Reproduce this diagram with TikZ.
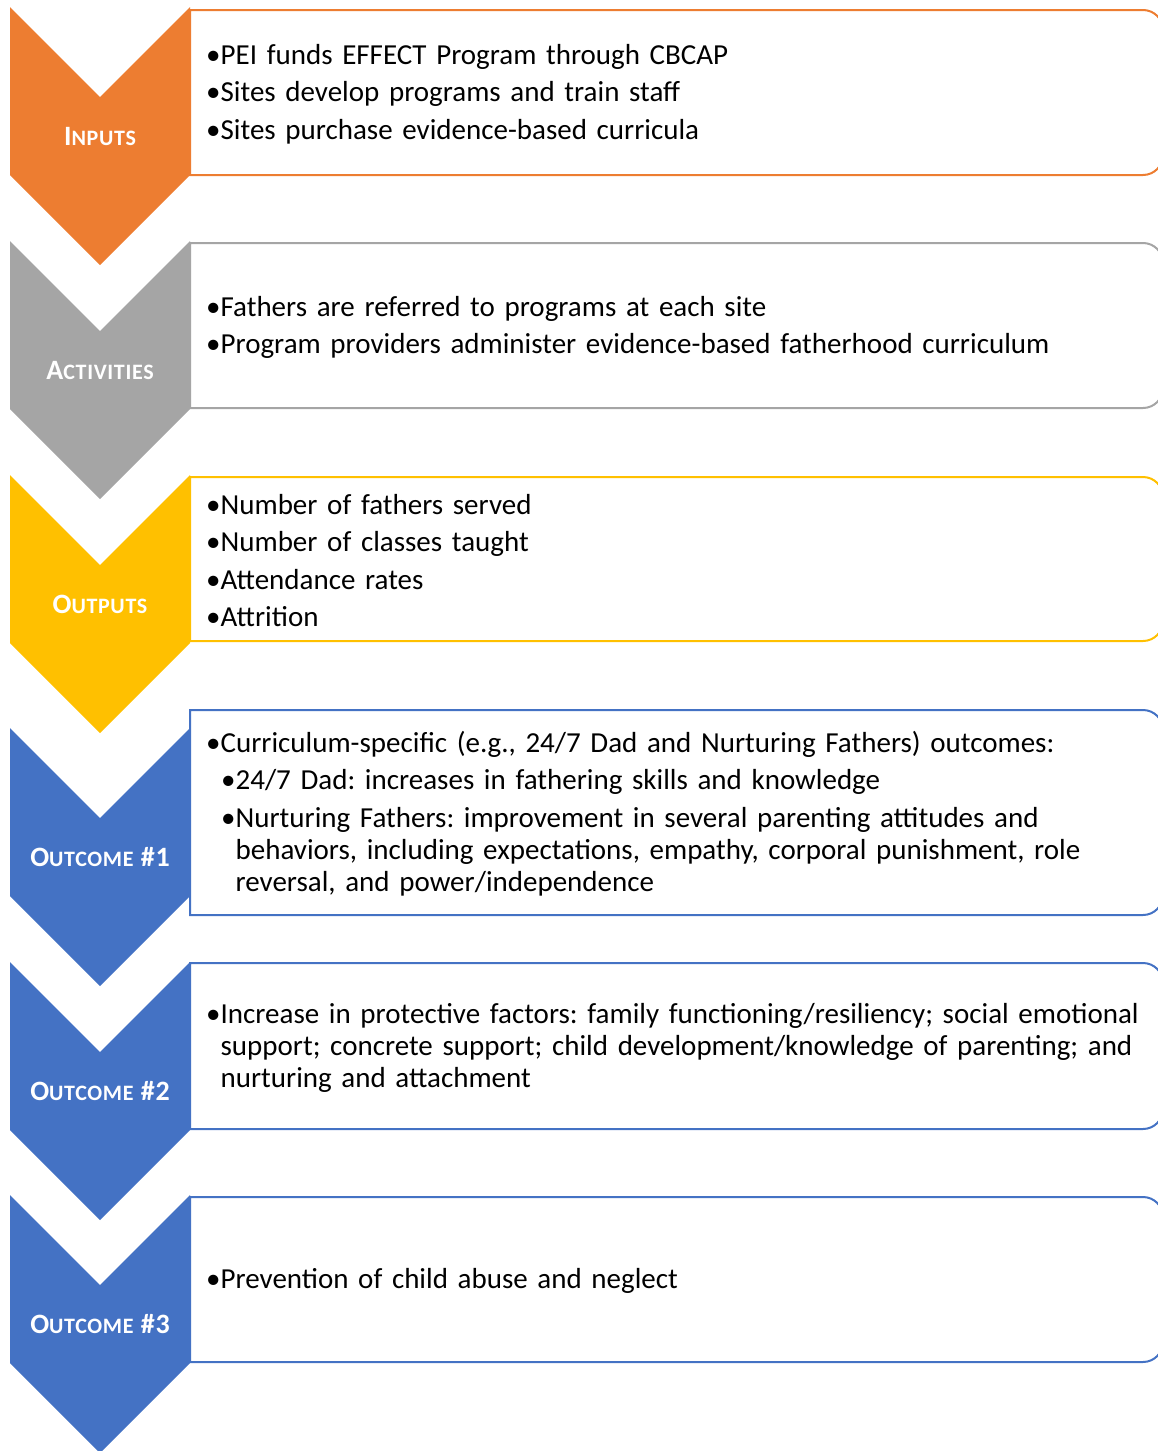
\documentclass[tikz,border=0pt]{standalone}
\usepackage{fontspec}
\setmainfont{Carlito}
\usetikzlibrary{positioning}

\definecolor{inorange}{HTML}{ED7D31}
\definecolor{actgray}{HTML}{A5A5A5}
\definecolor{outgold}{HTML}{FFC000}
\definecolor{ocblue}{HTML}{4472C4}

% small caps done by hand: big first letter, smaller rest
\newcommand{\capbig}[1]{{\fontsize{28}{30}\selectfont #1}}
\newcommand{\capsmall}[1]{{\fontsize{22}{30}\selectfont #1}}
% bullet lines
\newcommand{\itm}[1]{\par\noindent\textbullet#1}
\newcommand{\subitm}[1]{\par\noindent\hspace*{15pt}\textbullet#1}
\newcommand{\wrapitm}[2]{\par\noindent\hspace*{#1}\textbullet\parbox[t]{920pt}{\raggedright #2}}

\tikzset{
  chevlabel/.style={text=white, font=\bfseries\addfontfeatures{LetterSpace=3}, inner sep=0pt},
  bulletbox/.style={anchor=west, inner sep=0pt, text width=960pt, align=left,
    font=\fontsize{29}{32}\selectfont\frenchspacing\setlength{\parskip}{5.5pt}},
  boxline/.style={draw=#1, line width=2pt, fill=white}
}

\begin{document}
\begin{tikzpicture}[x=1pt, y=-1pt]
        \useasboundingbox (0,0) rectangle (1158,1451);
        % Boxes behind the chevrons, right corners rounded
        \foreach \a/\b/\c in {10/175/inorange, 243/408/actgray, 477/641/outgold, 710/915/ocblue, 963/1129/ocblue, 1197/1362/ocblue} {
            \draw[boxline=\c] (190,\a) -- (1143,\a) arc[start angle=90, end angle=0, radius=20pt]
                -- (1163,{\b-20}) arc[start angle=0, end angle=-90, radius=20pt] -- (190,\b) -- cycle;
        }
        % Chevrons
        \foreach \t/\c in {7/inorange, 241/actgray, 475/outgold, 728/ocblue, 962/ocblue, 1195/ocblue} {
            \fill[\c] (10,\t) -- (100,{\t+90}) -- (190,\t) -- (190,{\t+168}) -- (100,{\t+258}) -- (10,{\t+168}) -- cycle;
        }
        % Labels on the chevrons
        \node[chevlabel] (inLbl) at (100,136) {\capbig{I}\capsmall{NPUTS}};
        \node[chevlabel] (actLbl) at (100,370) {\capbig{A}\capsmall{CTIVITIES}};
        \node[chevlabel] (outLbl) at (100,604) {\capbig{O}\capsmall{UTPUTS}};
        \node[chevlabel] (ocOneLbl) at (100,857) {\capbig{O}\capsmall{UTCOME}\capbig{ \#1}};
        \node[chevlabel] (ocTwoLbl) at (100,1091) {\capbig{O}\capsmall{UTCOME}\capbig{ \#2}};
        \node[chevlabel] (ocThreeLbl) at (100,1324) {\capbig{O}\capsmall{UTCOME}\capbig{ \#3}};
        % Texts in the boxes
        \node[bulletbox] (inText) at (206,85.5) {
            \itm{PEI funds EFFECT Program through CBCAP}
            \itm{Sites develop programs and train staff}
            \itm{Sites purchase evidence-based curricula}};
        \node[bulletbox] (actText) at (206,318.5) {
            \itm{Fathers are referred to programs at each site}
            \itm{Program providers administer evidence-based fatherhood curriculum}};
        \node[bulletbox] (outText) at (206,552) {
            \itm{Number of fathers served}
            \itm{Number of classes taught}
            \itm{Attendance rates}
            \itm{Attrition}};
        \node[bulletbox] (ocOneText) at (206,805.5) {
            \itm{Curriculum-specific (e.g., 24/7 Dad and Nurturing Fathers) outcomes:}
            \subitm{24/7 Dad: increases in fathering skills and knowledge}
            \wrapitm{15pt}{Nurturing Fathers: improvement in several parenting attitudes and\\ behaviors, including expectations, empathy, corporal punishment, role\\ reversal, and power/independence}};
        \node[bulletbox] (ocTwoText) at (206,1039) {
            \wrapitm{0pt}{Increase in protective factors: family functioning/resiliency; social emotional\\ support; concrete support; child development/knowledge of parenting; and\\ nurturing and attachment}};
        \node[bulletbox] (ocThreeText) at (206,1272.5) {
            \itm{Prevention of child abuse and neglect}};
    \end{tikzpicture}
\end{document}
